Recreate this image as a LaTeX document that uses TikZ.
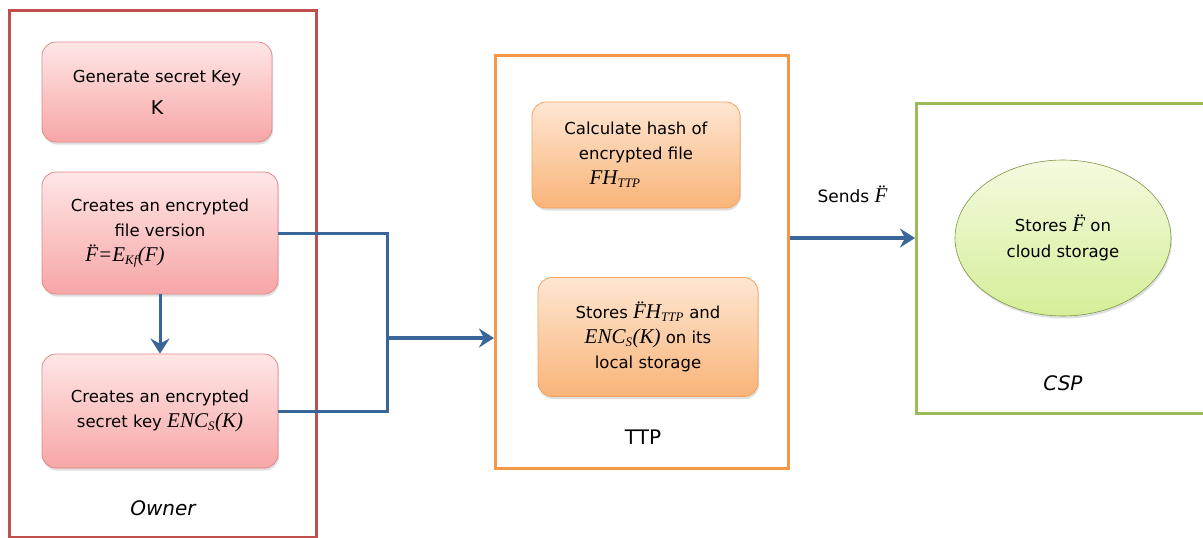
\documentclass[tikz,border=0pt]{standalone}
\usepackage{fontspec}
\setmainfont{DejaVu Sans}
\newfontfamily\formulafont{Liberation Serif}
\usetikzlibrary{arrows.meta,shadows,shapes.geometric}

% italic serif symbols used inside the task texts
\newcommand{\fml}[1]{{\formulafont\itshape\fontsize{21}{25}\selectfont #1}}
\newcommand{\fsub}[1]{\textsubscript{\fontsize{13}{13}\selectfont #1}}

\definecolor{ownerred}{HTML}{C0504D}
\definecolor{ttporange}{HTML}{F79646}
\definecolor{cspgreen}{HTML}{9BBB59}
\definecolor{flowblue}{HTML}{3A6599}
\definecolor{pinktop}{HTML}{FFE6E6}
\definecolor{pinkbot}{HTML}{F7A6A6}
\definecolor{pinkline}{HTML}{E08A8A}
\definecolor{orangetop}{HTML}{FEE6D2}
\definecolor{orangebot}{HTML}{F9B478}
\definecolor{orangeline}{HTML}{F5A25E}
\definecolor{greentop}{HTML}{F4FADF}
\definecolor{greenbot}{HTML}{D4EF98}

\tikzset{
  lane/.style={draw, line width=3pt, fill=white},
  lanelabel/.style={font=\fontsize{20}{22}\selectfont},
  taskbase/.style={rounded corners=14pt, align=center, inner sep=4pt,
    font=\fontsize{16.5}{25}\selectfont,
    drop shadow={opacity=0.25, shadow xshift=1pt, shadow yshift=-2.5pt}},
  ownertask/.style={taskbase, draw=pinkline, line width=0.8pt,
    top color=pinktop, bottom color=pinkbot},
  ttptask/.style={taskbase, draw=orangeline, line width=0.8pt,
    top color=orangetop, bottom color=orangebot},
  csptask/.style={ellipse, align=center, draw=cspgreen!80!black, line width=0.6pt,
    top color=greentop, bottom color=greenbot,
    font=\fontsize{16.5}{26}\selectfont,
    drop shadow={opacity=0.25, shadow xshift=1pt, shadow yshift=-2.5pt}},
  flow/.style={draw=flowblue, line width=3pt},
  flowarrow/.style={flow, -{Stealth[length=15pt,width=19pt,inset=5pt]}},
}

\begin{document}
\begin{tikzpicture}[x=1pt,y=-1pt]
  \useasboundingbox (0,0) rectangle (1203,538);

  % swim lanes
  \node[lane, draw=ownerred, minimum width=307pt, minimum height=527pt, anchor=north west] (owner) at (8,9) {};
  \node[lane, draw=ttporange, minimum width=293pt, minimum height=413pt, anchor=north west] (ttp) at (494,54) {};
  \node[lane, draw=cspgreen, minimum width=310pt, minimum height=310pt, anchor=north west] (csp) at (915,102) {};

  \node[lanelabel, font=\fontsize{20}{22}\selectfont\itshape] (ownerlbl) at (163,508) {Owner};
  \node[lanelabel] (ttplbl) at (643,437) {TTP};
  \node[lanelabel, font=\fontsize{20}{22}\selectfont\itshape] (csplbl) at (1063,383) {CSP};

  % owner tasks
  \node[ownertask, minimum width=230pt, minimum height=100pt] (gen) at (157,92)
    {Generate secret Key\\[7pt]{\fontsize{19}{20}\selectfont K}};
  \node[ownertask, minimum width=236pt, minimum height=122pt] (encfile) at (160,233)
    {Creates an encrypted\\file version\\\fml{\"F=E\fsub{Kf}(F)}\hspace*{70pt}};
  \node[ownertask, minimum width=236pt, minimum height=114pt] (enckey) at (160,411)
    {Creates an encrypted\\secret key \fml{ENC\fsub{S}(K)}};

  % TTP tasks
  \node[ttptask, minimum width=208pt, minimum height=106pt] (hash) at (636,155)
    {Calculate hash of\\encrypted file\\\fml{FH\fsub{TTP}}\hspace*{42pt}};
  \node[ttptask, minimum width=220pt, minimum height=119pt] (store) at (648,337)
    {Stores \fml{\"FH\fsub{TTP}} and\\\fml{ENC\fsub{S}(K)} on its\\local storage};

  % CSP task
  \node[csptask, minimum width=216pt, minimum height=156pt, inner sep=0pt] (cloud) at (1063,238)
    {Stores \fml{\"F} on\\cloud storage};

  % connectors
  \coordinate (join) at (387,338);
  \draw[flowarrow] (encfile.south) -- (enckey.north);
  \draw[flow] (encfile.east) -| (join);
  \draw[flow] (enckey.east) -| (join);
  \draw[flowarrow, line width=4pt] (join) -- (join -| ttp.west);
  \draw[flowarrow, line width=4pt] (ttp.east |- cloud) -- (csp.west |- cloud)
    node[midway, above=30pt, font=\fontsize{17}{18}\selectfont] (sends) {Sends \fml{\"F}};
\end{tikzpicture}
\end{document}
